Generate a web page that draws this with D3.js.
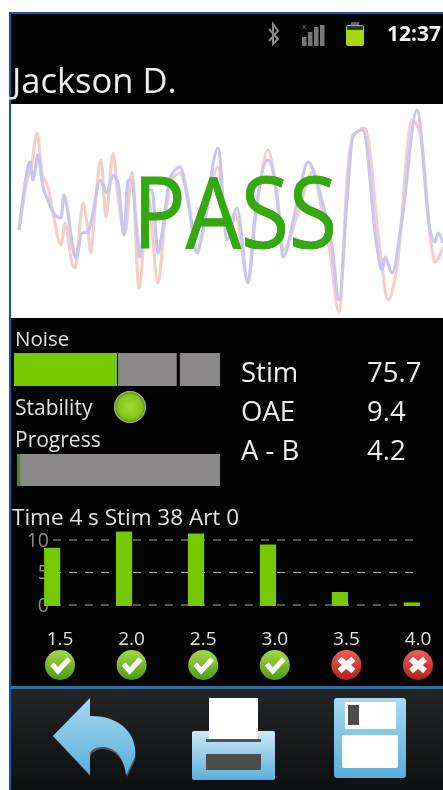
<!DOCTYPE html>
<html>
<head>
<meta charset="utf-8">
<script src="https://cdn.jsdelivr.net/npm/d3@7"></script>
<style>
  html, body { margin: 0; padding: 0; background: #fff; overflow: hidden; }
  svg { display: block; filter: blur(0.45px); }
  text { font-family: "Open Sans", "Noto Sans", sans-serif; }
</style>
</head>
<body>
<svg id="chart" width="443" height="790"></svg>
<script>
// waveforms
const blueT = [8,11,15,19,22,27,32,36,44,50,53,57,61,65,71,77,82,89,96,102,107,113,117,121,126,129,136,141,147,152,159,169,176,186,192,207,216,226,237,244,257,267,272,286,297,309,321,328,336,342,352,366,371,374,381,391,406,419,424,427,432];
const blueAmp = [-19,4,34,49,31,56,24,13,-4,-7,16,-2,-32,-47,-22,-21,-2,31,18,36,28,-24,31,31,-22,-46,21,21,-42,-16,33,44,18,-42,-19,63,-29,3,-72,-6,51,8,-46,8,49,18,-36,-89,11,76,81,-36,-59,-46,-62,-9,101,-19,-31,-22,-32];
const pinkT = [8,11,16,21,26,31,37,42,50,54,61,64,72,76,80,84,90,95,102,107,114,121,128,137,147,154,161,169,179,186,196,207,216,224,237,244,257,267,272,287,302,309,319,328,337,342,354,369,377,386,401,409,421,424,432];
const pinkAmp = [-19,1,31,48,78,38,24,-2,-34,-12,-52,-57,8,-12,-42,4,51,-6,58,14,-22,39,-77,14,-72,-9,31,38,-2,-39,1,44,-22,-2,-69,-12,61,4,-39,-2,39,11,-42,-101,44,74,83,-39,-89,-56,91,78,-39,-51,-36];

// noise / progress meters
const noiseSegs = [[0, 50, "#76c800"], [50.5, 79, "#8a8888"], [80.5, 100, "#8a8888"]];
const progressValue = 1.6;

const readoutNames = ["Stim", "OAE", "A - B"];
const readoutValues = ["75.7", "9.4", "4.2"];

// bars
const freqs = ["1.5", "2.0", "2.5", "3.0", "3.5", "4.0"];
const freqValues = [8.8, 11.3, 11, 9.3, 2, 0.4];
const freqPass = [true, true, true, true, false, false];
const yTicks = [0, 5, 10];

const svg = d3.select("#chart");

const defs = svg.append("defs");
function vGrad(id, stops) {
  const g = defs.append("linearGradient").attr("id", id)
    .attr("x1", 0).attr("y1", 0).attr("x2", 0).attr("y2", 1);
  stops.forEach(s => g.append("stop").attr("offset", s[0]).attr("stop-color", s[1]));
}
function rGrad(id, stops) {
  const g = defs.append("radialGradient").attr("id", id)
    .attr("cx", "50%").attr("cy", "50%").attr("r", "52%");
  stops.forEach(s => g.append("stop").attr("offset", s[0]).attr("stop-color", s[1]));
}
vGrad("barBg", [[0, "#242526"], [1, "#0e0f10"]]);
vGrad("iconBlue", [[0, "#a9d8f0"], [1, "#58aeda"]]);
vGrad("iconBlue2", [[0, "#cfe9f6"], [1, "#5aafdb"]]);
vGrad("okGrad", [[0, "#a6d84a"], [1, "#4f9a10"]]);
vGrad("badGrad", [[0, "#e8625a"], [1, "#b5201a"]]);
rGrad("ledGrad", [[0, "#a6da2e"], [0.72, "#84c41c"], [0.86, "#6a9a20"], [1, "#d4dcc8"]]);

// phone frame
svg.append("rect").attr("x", 9).attr("y", 12).attr("width", 434).attr("height", 778).attr("fill", "#0a5cad");
svg.append("rect").attr("x", 11).attr("y", 14).attr("width", 432).attr("height", 776).attr("fill", "#030304");

// status bar
const status = svg.append("g");
status.append("path")
  .attr("d", "M269 29 L278 39 L273 44 L273 24 L278 31 L269 41")
  .attr("fill", "none").attr("stroke", "#8a8a8a").attr("stroke-width", 2);
[[302, 37], [308, 32], [314, 27], [320, 25]].forEach(b => {
  status.append("rect").attr("x", b[0]).attr("y", b[1]).attr("width", 4.5).attr("height", 46 - b[1]).attr("fill", "#777");
});
status.append("text").attr("x", 304).attr("y", 29).attr("text-anchor", "middle")
  .attr("font-size", 8).attr("fill", "#777").text("x");
status.append("rect").attr("x", 346).attr("y", 25).attr("width", 18).attr("height", 21).attr("rx", 2).attr("fill", "#a4d80f");
status.append("rect").attr("x", 351).attr("y", 22).attr("width", 8).attr("height", 3).attr("fill", "#666");
status.append("rect").attr("x", 347).attr("y", 26).attr("width", 16).attr("height", 4).attr("fill", "#333");
status.append("text").attr("x", 441).attr("y", 41).attr("text-anchor", "end")
  .attr("font-size", 21).attr("font-weight", 700).attr("fill", "#f2f2f2").text("12:37");

svg.append("text").attr("x", 12).attr("y", 93).attr("font-size", 34.5).attr("fill", "#eee").text("Jackson D.");

// waveform panel
svg.append("rect").attr("x", 11).attr("y", 104).attr("width", 432).attr("height", 214).attr("fill", "#fff");
const waveX = d3.scaleLinear().domain([0, 432]).range([11, 443]);
const waveY = d3.scaleLinear().domain([-107, 107]).range([318, 104]);
const waveLine = d3.line().x(d => waveX(d[0])).y(d => waveY(d[1])).curve(d3.curveMonotoneX);
svg.append("path").datum(d3.zip(pinkT, pinkAmp)).attr("d", waveLine)
  .attr("fill", "none").attr("stroke", "#f4cfc9").attr("stroke-width", 3.2).attr("stroke-linejoin", "round");
svg.append("path").datum(d3.zip(blueT, blueAmp)).attr("d", waveLine)
  .attr("fill", "none").attr("stroke", "#c6c6ee").attr("stroke-width", 3.2).attr("stroke-linejoin", "round");
svg.append("text").attr("x", 133).attr("y", 248)
  .attr("font-size", 99).attr("fill", "#33a80f")
  .attr("stroke", "#33a80f").attr("stroke-width", 1)
  .attr("textLength", 204).attr("lengthAdjust", "spacingAndGlyphs").text("PASS");

// noise meter
svg.append("text").attr("x", 15).attr("y", 346).attr("font-size", 20.5).attr("fill", "#e2e2e2").text("Noise");
const meterX = d3.scaleLinear().domain([0, 100]).range([14, 220]);
svg.selectAll(".noise").data(noiseSegs).join("rect").attr("class", "noise")
  .attr("x", d => meterX(d[0])).attr("width", d => meterX(d[1]) - meterX(d[0]))
  .attr("y", 353).attr("height", 33).attr("fill", d => d[2]);

svg.append("text").attr("x", 15).attr("y", 415).attr("font-size", 21).attr("fill", "#e2e2e2").text("Stability");
svg.append("circle").attr("cx", 130).attr("cy", 407).attr("r", 16).attr("fill", "url(#ledGrad)");

svg.append("text").attr("x", 15).attr("y", 447).attr("font-size", 21).attr("fill", "#e2e2e2").text("Progress");
const progressX = d3.scaleLinear().domain([0, 100]).range([17, 220]);
svg.append("rect").attr("x", 17).attr("y", 454).attr("width", 203).attr("height", 32).attr("fill", "#8a8888");
svg.append("rect").attr("x", 17).attr("y", 454).attr("width", progressX(progressValue) - 17).attr("height", 32).attr("fill", "#4f8a10");

// readouts
const readoutY = [382, 421, 460];
svg.selectAll(".rname").data(readoutNames).join("text").attr("class", "rname")
  .attr("x", 241).attr("y", (d, i) => readoutY[i]).attr("font-size", 27.5).attr("fill", "#eee").text(d => d);
svg.selectAll(".rval").data(readoutValues).join("text").attr("class", "rval")
  .attr("x", 367).attr("y", (d, i) => readoutY[i]).attr("font-size", 27.5).attr("fill", "#eee").text(d => d);

svg.append("text").attr("x", 12).attr("y", 525).attr("font-size", 22.5).attr("fill", "#e2e2e2").text("Time 4 s Stim 38 Art 0");

// bar chart
const x = d3.scaleBand().domain(freqs).range([16, 448]).paddingInner(0.775).paddingOuter(0.39);
const y = d3.scaleLinear().domain([0, 10]).range([605, 540]);

const yAxis = svg.append("g").attr("transform", "translate(50,0)")
  .call(d3.axisLeft(y).tickValues(yTicks).tickSize(0).tickPadding(1));
yAxis.select(".domain").remove();
yAxis.selectAll("text").attr("font-size", 19.5).attr("fill", "#8c8c8c")
  .style("font-family", '"Open Sans", sans-serif');

svg.selectAll(".grid").data(yTicks).join("line").attr("class", "grid")
  .attr("x1", 53).attr("x2", 413).attr("y1", d => y(d)).attr("y2", d => y(d))
  .attr("stroke", "#aaa").attr("stroke-width", 1).attr("stroke-dasharray", "8 8");

svg.selectAll(".bar").data(freqValues).join("rect").attr("class", "bar")
  .attr("x", (d, i) => x(freqs[i])).attr("width", x.bandwidth())
  .attr("y", d => y(d)).attr("height", d => y(0) - y(d) + 1).attr("fill", "#76c800");

// freq labels and pass/fail badges
const labelX = d3.scalePoint().domain(freqs).range([60, 418]);
svg.selectAll(".freq").data(freqs).join("text").attr("class", "freq")
  .attr("x", d => labelX(d)).attr("y", 645).attr("text-anchor", "middle")
  .attr("font-size", 19).attr("fill", "#e2e2e2").text(d => d);

const badges = svg.selectAll(".badge").data(freqs).join("g").attr("class", "badge")
  .attr("transform", d => `translate(${labelX(d)},665)`);
badges.append("circle").attr("r", 15).attr("fill", (d, i) => freqPass[i] ? "url(#okGrad)" : "url(#badGrad)");
badges.append("path")
  .attr("d", (d, i) => freqPass[i] ? "M-8 -1 L-2 6 L9 -6" : "M-7 -6 L7 6 M7 -6 L-7 6")
  .attr("fill", "none").attr("stroke", "#fff").attr("stroke-width", (d, i) => freqPass[i] ? 5 : 6);

// bottom bar
svg.append("rect").attr("x", 11).attr("y", 689).attr("width", 432).attr("height", 101).attr("fill", "url(#barBg)");
svg.append("rect").attr("x", 11).attr("y", 686).attr("width", 432).attr("height", 3).attr("fill", "#33709f");

// back icon
svg.append("path")
  .attr("d", "M53 736 L90 698 L90 717 C118 716 138 735 135 760 L127 777 C125 762 118 751 104 749 C96 749 92 752 90 757 L90 776 Z")
  .attr("fill", "#555");
svg.append("path")
  .attr("d", "M53 736 L90 698 L90 716 C118 715 138 733 135 757 L126 775 C124 758 116 748 104 747 C96 747 92 749 90 753 L90 775 Z")
  .attr("fill", "url(#iconBlue)");

// print icon
svg.append("rect").attr("x", 192).attr("y", 731).attr("width", 83).attr("height", 49).attr("rx", 2).attr("fill", "url(#iconBlue2)");
svg.append("rect").attr("x", 209).attr("y", 698).attr("width", 49).attr("height", 42).attr("fill", "#fff");
svg.append("rect").attr("x", 206).attr("y", 739).attr("width", 55).attr("height", 3).attr("fill", "#555");
svg.append("rect").attr("x", 206).attr("y", 754).attr("width", 55).attr("height", 16).attr("fill", "#4c4c4c");

// save icon
svg.append("rect").attr("x", 334).attr("y", 698).attr("width", 72).attr("height", 80).attr("rx", 3).attr("fill", "url(#iconBlue)");
svg.append("rect").attr("x", 345).attr("y", 702).attr("width", 51).attr("height", 27).attr("fill", "#fff");
svg.append("rect").attr("x", 348).attr("y", 705).attr("width", 11).attr("height", 20).attr("fill", "#4c4c4c");
svg.append("rect").attr("x", 342).attr("y", 735).attr("width", 56).attr("height", 33).attr("rx", 2).attr("fill", "#fff");
</script>
</body>
</html>
